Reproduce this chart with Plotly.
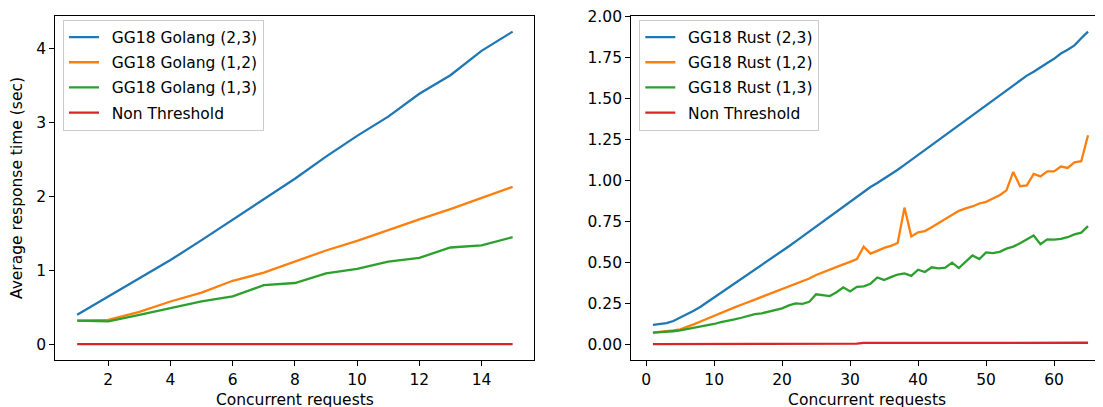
import plotly.graph_objects as go

# ---------------- data ----------------
go_x = list(range(1, 16))
go_23 = [0.40, 0.65, 0.89, 1.14, 1.41, 1.69, 1.96, 2.24, 2.54, 2.82, 3.08, 3.39, 3.64, 3.97, 4.23]
go_12 = [0.32, 0.33, 0.44, 0.58, 0.70, 0.86, 0.97, 1.12, 1.27, 1.40, 1.55, 1.69, 1.83, 1.98, 2.13]
go_13 = [0.32, 0.31, 0.40, 0.49, 0.58, 0.65, 0.80, 0.83, 0.96, 1.02, 1.12, 1.17, 1.31, 1.34, 1.45]
go_nt = [0.003, 0.003, 0.003, 0.003, 0.003, 0.003, 0.003, 0.003, 0.003, 0.003, 0.003, 0.003, 0.003, 0.004, 0.004]

rs_x = list(range(1, 66))
rs_23 = [0.122, 0.125, 0.132, 0.145, 0.165, 0.185, 0.208, 0.232, 0.260, 0.290,
         0.318, 0.345, 0.372, 0.400, 0.430, 0.457, 0.485, 0.513, 0.542, 0.572,
         0.600, 0.630, 0.660, 0.690, 0.720, 0.748, 0.778, 0.808, 0.840, 0.872,
         0.898, 0.928, 0.960, 0.985, 1.010, 1.035, 1.065, 1.095, 1.125, 1.160,
         1.188, 1.215, 1.245, 1.275, 1.305, 1.335, 1.365, 1.398, 1.428, 1.455,
         1.485, 1.515, 1.545, 1.575, 1.605, 1.638, 1.662, 1.690, 1.715, 1.740,
         1.772, 1.795, 1.822, 1.865, 1.905]
rs_12 = [0.075, 0.078, 0.082, 0.088, 0.095, 0.108, 0.125, 0.142, 0.160, 0.178,
         0.196, 0.212, 0.228, 0.244, 0.258, 0.275, 0.292, 0.308, 0.325, 0.342,
         0.358, 0.372, 0.388, 0.404, 0.425, 0.442, 0.460, 0.475, 0.490, 0.505,
         0.522, 0.597, 0.555, 0.572, 0.590, 0.602, 0.620, 0.835, 0.660, 0.685,
         0.692, 0.715, 0.740, 0.765, 0.785, 0.815, 0.830, 0.842, 0.860, 0.870,
         0.890, 0.910, 0.940, 1.052, 0.965, 0.970, 1.040, 1.025, 1.055, 1.055,
         1.085, 1.076, 1.110, 1.117, 1.275]
rs_13 = [0.075, 0.077, 0.080, 0.083, 0.088, 0.095, 0.103, 0.110, 0.118, 0.127,
         0.138, 0.145, 0.155, 0.165, 0.175, 0.187, 0.192, 0.202, 0.210, 0.222,
         0.240, 0.252, 0.250, 0.262, 0.308, 0.303, 0.297, 0.320, 0.350, 0.325,
         0.353, 0.356, 0.372, 0.410, 0.395, 0.412, 0.428, 0.435, 0.420, 0.457,
         0.443, 0.472, 0.465, 0.470, 0.500, 0.467, 0.505, 0.544, 0.522, 0.562,
         0.558, 0.566, 0.585, 0.598, 0.618, 0.642, 0.665, 0.613, 0.642, 0.640,
         0.645, 0.655, 0.672, 0.683, 0.722]
rs_nt = [0.004, 0.004, 0.004, 0.004, 0.004, 0.004, 0.004, 0.004, 0.004, 0.005,
         0.005, 0.005, 0.005, 0.005, 0.006, 0.006, 0.006, 0.006, 0.006, 0.006,
         0.006, 0.006, 0.006, 0.007, 0.007, 0.007, 0.007, 0.007, 0.007, 0.007,
         0.007, 0.012, 0.012, 0.012, 0.011, 0.010, 0.009, 0.009, 0.009, 0.009,
         0.009, 0.009, 0.009, 0.009, 0.010, 0.010, 0.010, 0.010, 0.010, 0.010,
         0.010, 0.010, 0.011, 0.011, 0.011, 0.011, 0.011, 0.012, 0.012, 0.012,
         0.012, 0.012, 0.013, 0.013, 0.013]

go_names = ["GG18 Golang (2,3)", "GG18 Golang (1,2)", "GG18 Golang (1,3)", "Non Threshold"]
rs_names = ["GG18 Rust (2,3)", "GG18 Rust (1,2)", "GG18 Rust (1,3)", "Non Threshold"]
colors = ["#1f77b4", "#ff7f0e", "#2ca02c", "#d62728"]

left_xticks = [2, 4, 6, 8, 10, 12, 14]
left_yticks = [0, 1, 2, 3, 4]
right_xticks = [0, 10, 20, 30, 40, 50, 60]
right_yticks = [0.0, 0.25, 0.5, 0.75, 1.0, 1.25, 1.5, 1.75, 2.0]

# ---------------- figure ----------------
OFF = 8                      # page body margin of the written html
EXTRA = 12                   # figure continues below the window (reference is cropped there)
W, H = 1103 - OFF, 407 - OFF + EXTRA
FONT = "DejaVu Sans"
FS = 15.5
LW = 2.3

TOP, BOT = 16 - OFF, 360 - OFF
PH = BOT - TOP

fig = go.Figure()
for name, ys, c in zip(go_names, [go_23, go_12, go_13, go_nt], colors):
    fig.add_trace(go.Scatter(x=go_x, y=ys, mode="lines", name="\u2002" + name,
                             line=dict(color=c, width=LW), xaxis="x", yaxis="y",
                             legend="legend", legendgroup="L" + name))
for name, ys, c in zip(rs_names, [rs_23, rs_12, rs_13, rs_nt], colors):
    fig.add_trace(go.Scatter(x=rs_x, y=ys, mode="lines", name="\u2002" + name,
                             line=dict(color=c, width=LW), xaxis="x2", yaxis="y2",
                             legend="legend2", legendgroup="R" + name))

axis_common = dict(showgrid=False, zeroline=False, showline=True, linecolor="black",
                   linewidth=1.2, ticks="outside", ticklen=5, tickwidth=1.2,
                   tickcolor="black", tickfont=dict(family=FONT, size=FS, color="black"),
                   ticklabeloverflow="allow", automargin=False)

legend_common = dict(font=dict(family=FONT, size=FS, color="black"),
                     bgcolor="rgba(255,255,255,0.8)", bordercolor="#cccccc", borderwidth=1,
                     xanchor="left", yanchor="top", tracegroupgap=2,
                     traceorder="grouped")

LEG_TOP = 19.5 - OFF

fig.update_layout(
    width=W, height=H,
    margin=dict(l=0, r=0, t=TOP, b=H - BOT, pad=0),
    paper_bgcolor="white", plot_bgcolor="white",
    font=dict(family=FONT, size=FS, color="black"),
    showlegend=True,
    xaxis=dict(domain=[(55.4 - OFF) / W, (534.4 - OFF) / W], range=[0.3, 15.7], tickvals=left_xticks,
               mirror=True, anchor="y",
               title=dict(text="Concurrent requests", font=dict(family=FONT, size=FS), standoff=6),
               **axis_common),
    yaxis=dict(domain=[0, 1], range=[-0.2115, 4.4415], tickvals=left_yticks,
               mirror=True, anchor="x",
               title=dict(text="Average response time (sec)", font=dict(family=FONT, size=FS), standoff=9),
               **axis_common),
    xaxis2=dict(domain=[(631.2 - OFF) / W, 1.0], range=[-2.2, 67.2], tickvals=right_xticks,
                mirror=True, anchor="y2",
                title=dict(text="Concurrent requests", font=dict(family=FONT, size=FS), standoff=6),
                **axis_common),
    yaxis2=dict(domain=[0, 1], range=[-0.092, 2.0005], tickvals=right_yticks,
                tickformat=".2f", mirror=False, anchor="x2",
                **axis_common),
    legend=dict(x=(63 - OFF) / W, y=(BOT - LEG_TOP) / PH, **legend_common),
    legend2=dict(x=(639.3 - OFF) / W, y=(BOT - LEG_TOP) / PH, **legend_common),
)

fig.write_html("out.html")
